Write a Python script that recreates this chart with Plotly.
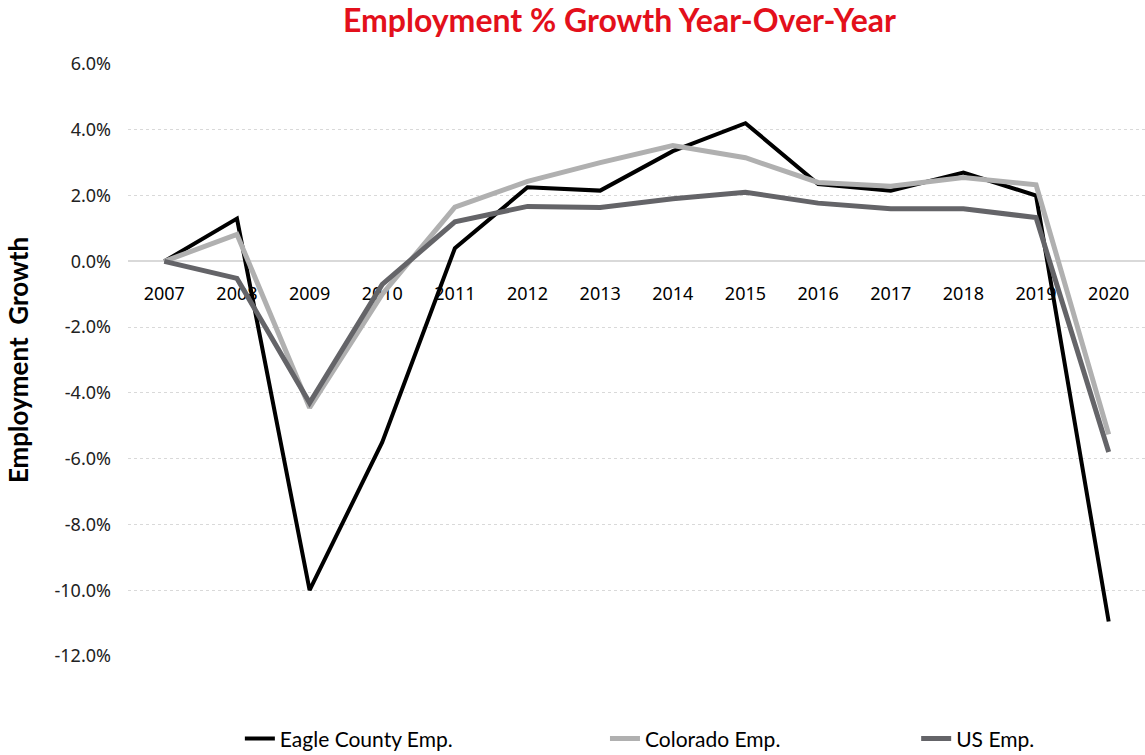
import plotly.graph_objects as go

years = ["2007", "2008", "2009", "2010", "2011", "2012", "2013",
         "2014", "2015", "2016", "2017", "2018", "2019", "2020"]
eagle_county = [0.0, 1.3, -10.0, -5.5, 0.4, 2.25, 2.15, 3.35, 4.2, 2.35, 2.15, 2.7, 2.0, -10.95]
colorado = [0.0, 0.82, -4.45, -1.0, 1.65, 2.43, 3.0, 3.52, 3.15, 2.4, 2.28, 2.55, 2.33, -5.26]
us = [0.0, -0.52, -4.3, -0.7, 1.2, 1.67, 1.64, 1.9, 2.1, 1.77, 1.6, 1.6, 1.33, -5.8]

y_min, y_max = -12.0, 6.0
tick_vals = [6, 4, 2, 0, -2, -4, -6, -8, -10, -12]
tick_text = [f"{v:.1f}%" for v in tick_vals]

series = [
    ("Eagle County Emp.", eagle_county, "#000000", 4, "legend", 0.110),
    ("Colorado Emp.", colorado, "#b0b0b0", 5, "legend2", 0.469),
    ("US Emp.", us, "#646468", 5, "legend3", 0.775),
]

fig = go.Figure()
for name, vals, color, width, leg, _ in series:
    fig.add_trace(go.Scatter(
        x=years, y=vals, name=name, mode="lines",
        line=dict(color=color, width=width), legend=leg,
    ))

legend_font = dict(family="Lato", size=21, color="#000000")
legend_common = dict(orientation="h", y=-0.140, yanchor="middle", xanchor="left",
                     font=legend_font, bgcolor="rgba(0,0,0,0)", itemwidth=30)

fig.update_layout(
    width=1145, height=755,
    margin=dict(l=128, r=0, t=64, b=99, autoexpand=False),
    paper_bgcolor="white", plot_bgcolor="white",
    title=dict(text="<b>Employment % Growth Year-Over-Year</b>",
               font=dict(family="Lato", size=32, color="#e3101b"),
               x=0.541, xanchor="center", y=0.972, yanchor="middle"),
    legend=dict(x=series[0][5], **legend_common),
    legend2=dict(x=series[1][5], **legend_common),
    legend3=dict(x=series[2][5], **legend_common),
    showlegend=True,
    xaxis=dict(
        type="category", range=[-0.5, 13.5], showgrid=False, showline=False,
        zeroline=False, anchor="free", position=(0 - y_min) / (y_max - y_min),
        side="bottom", ticks="", ticklabelstandoff=20, layer="below traces",
        tickfont=dict(family="Noto Sans", size=18, color="#000000"),
    ),
    yaxis=dict(
        range=[y_min, y_max], tickvals=tick_vals, ticktext=tick_text,
        showgrid=True, gridcolor="#d9d9d9", griddash="dot", gridwidth=1,
        zeroline=True, zerolinecolor="#d9d9d9", zerolinewidth=2,
        showline=False, ticks="", ticklabelstandoff=16,
        tickfont=dict(family="Noto Sans", size=18, color="#222222"),
        title=dict(text="<b>Employment\u00a0\u00a0Growth</b>", standoff=18,
                   font=dict(family="Lato", size=26, color="#000000")),
    ),
)

fig.write_html("out.html")
